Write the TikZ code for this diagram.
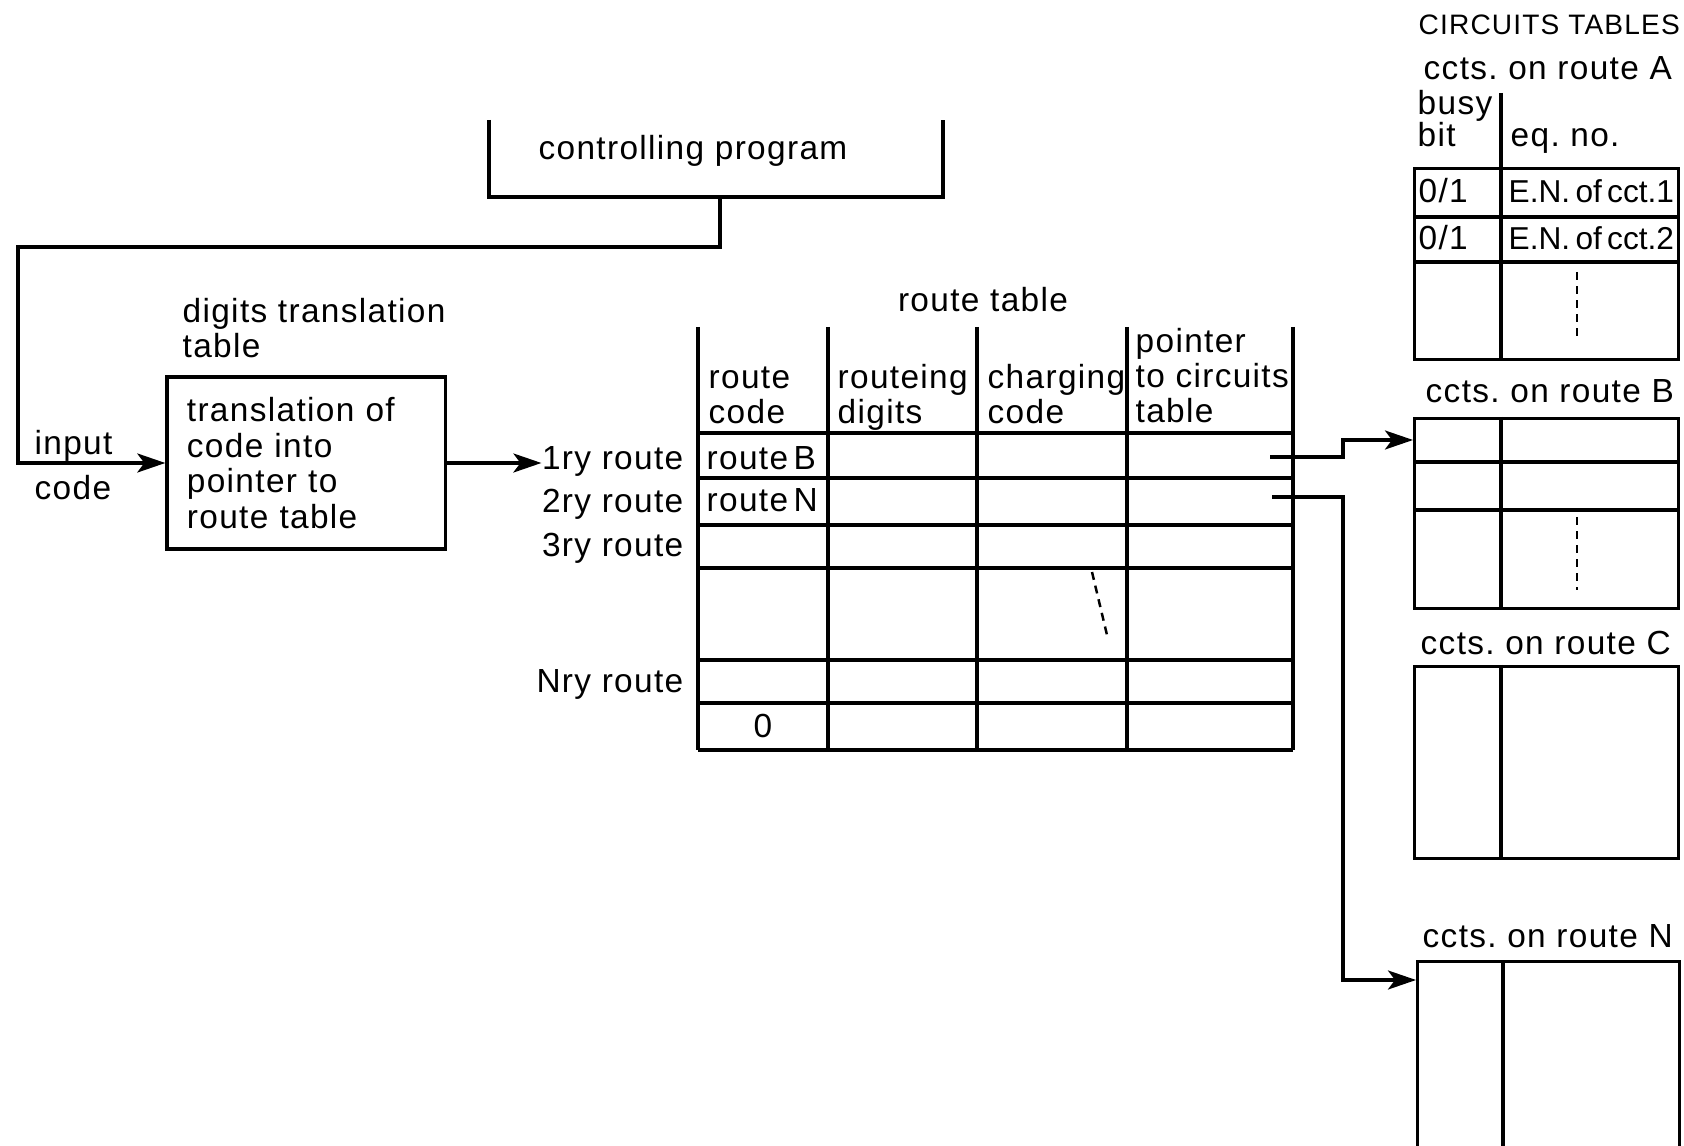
\documentclass[tikz,border=0pt]{standalone}
\usepackage{fontspec}
\setmainfont{Liberation Sans}[LetterSpace=4]
\usepackage{tikz}
\usetikzlibrary{arrows.meta,positioning,calc}
\tikzset{
  rline/.style={line width=0.9pt,black},
  rarrow/.style={rline,-{Stealth[length=2.8mm,width=1.9mm,inset=0.7mm]}},
  rdash/.style={line width=0.7pt,dash pattern=on 0.8mm off 0.6mm},
  rtext/.style={font=\fontsize{9.5}{10}\selectfont,inner sep=0pt,align=left},
  rbox/.style={draw,line width=0.9pt,minimum width=2.78cm,minimum height=1.72cm,
    inner sep=0pt,text width=2.38cm,align=left,font=\fontsize{9.5}{10.2}\selectfont},
  ctable/.style={draw,line width=0.9pt,minimum width=2.64cm,inner sep=0pt,anchor=north west}
}

\begin{document}
\begin{tikzpicture}[x=0.01cm,y=-0.01cm]
  \useasboundingbox (0,0) rectangle (1684,1146);
  \clip (0,0) rectangle (1684,1146);

  % controlling program
  \node[rtext,anchor=base] (ctrl) at (693,160) {controlling program};
  \draw[rline] (489,120) -- (489,197) -- (943,197) -- (943,120);
  \coordinate (ctrlout) at (720,197);
  \coordinate (loop) at (18,247);

  % digits translation table
  \node[rtext,anchor=base west] (dtt) at (182,358) {digits translation\\table};
  \node[rbox] (trans) at (306,463) {translation of\\code into\\pointer to\\route table};
  \node[rtext,anchor=base west] (inp) at (34,455) {input};
  \node[rtext,anchor=base west] (inc) at (34,500) {code};
  \draw[rarrow] (ctrlout) |- (loop) |- (trans.west);

  % route table
  \node[rtext,anchor=base] (rtt) at (983,312) {route table};
  \foreach \cx in {698,828,977,1127,1293}
    \draw[rline] (\cx,327) -- (\cx,750);
  \foreach \ry in {433,478,525,568,660,703,750}
    \draw[rline] (698,\ry) -- (1293,\ry);
  \draw[rdash] (1092,572) -- (1107,635);

  \node[rtext,anchor=base west] (hcode) at (708,424) {route\\code};
  \node[rtext,anchor=base west] (hdig) at (837,424) {routeing\\digits};
  \node[rtext,anchor=base west] (hchg) at (987,424) {charging\\code};
  \node[rtext,anchor=base west] (hptr) at (1135,423) {pointer\\to circuits\\table};

  \node[rtext,anchor=base east] (r1) at (684,470) {1ry route};
  \node[rtext,anchor=base east] (r2) at (684,513) {2ry route};
  \node[rtext,anchor=base east] (r3) at (684,557) {3ry route};
  \node[rtext,anchor=base east] (rN) at (684,693) {Nry route};
  \node[rtext,anchor=base west] (cB) at (706,470) {route\,B};
  \node[rtext,anchor=base west] (cN) at (706,512) {route\,N};
  \node[rtext,anchor=base] (c0) at (763,738) {0};
  \draw[rarrow] (trans.east) -- (trans.east -| r1.west);

  % circuits tables
  \node[rtext,anchor=base west,font=\fontsize{8}{9}\selectfont] (ctt) at (1418,35) {CIRCUITS TABLES};
  \node[rtext,anchor=base west] (nameA) at (1423,80) {ccts.\ on route A};
  \node[rtext,anchor=base west,font=\fontsize{9.5}{9.2}\selectfont] (busy) at (1417,147) {busy\\bit};
  \node[rtext,anchor=base west] (eqno) at (1510,147) {eq.\ no.};
  \draw[rline] (1501,93) -- (1501,167);

  \node[ctable,minimum height=1.91cm] (tabA) at (1413,167) {};
  \draw[rline] (1501,167) -- (1501,358);
  \draw[rline] (1413,217) -- (1677,217);
  \draw[rline] (1413,262) -- (1677,262);
  \draw[rdash] (1577,272) -- (1577,338);
  \node[rtext,anchor=base west] (bit1) at (1418,203) {0/1};
  \node[rtext,anchor=base west] (bit2) at (1418,250) {0/1};
  \node[rtext,anchor=base west,font=\fontsize{9}{10}\selectfont\addfontfeature{LetterSpace=0}] (en1) at (1508,203) {E.N.\,of\,cct.1};
  \node[rtext,anchor=base west,font=\fontsize{9}{10}\selectfont\addfontfeature{LetterSpace=0}] (en2) at (1508,250) {E.N.\,of\,cct.2};

  \node[rtext,anchor=base west] (nameB) at (1425,403) {ccts.\ on route B};
  \node[ctable,minimum height=1.90cm] (tabB) at (1413,417) {};
  \draw[rline] (1501,417) -- (1501,607);
  \draw[rline] (1413,462) -- (1677,462);
  \draw[rline] (1413,510) -- (1677,510);
  \draw[rdash] (1577,517) -- (1577,590);

  \node[rtext,anchor=base west] (nameC) at (1420,655) {ccts.\ on route C};
  \node[ctable,minimum height=1.92cm] (tabC) at (1413,665) {};
  \draw[rline] (1501,665) -- (1501,857);

  \node[rtext,anchor=base west] (nameN) at (1422,947) {ccts.\ on route N};
  \node[ctable,minimum height=2.4cm,minimum width=2.62cm] (tabN) at (1416,960) {};
  \draw[rline] (1503,960) -- (1503,1200);

  % pointers to circuits tables
  \coordinate (p1) at (1270,457);
  \coordinate (p2) at (1272,497);
  \coordinate (Bin) at (1413,440);
  \coordinate (Nin) at (1416,980);
  \draw[rarrow] (p1) -- (1343,457) |- (Bin);
  \draw[rarrow] (p2) -- (1343,497) |- (Nin);
\end{tikzpicture}
\end{document}
